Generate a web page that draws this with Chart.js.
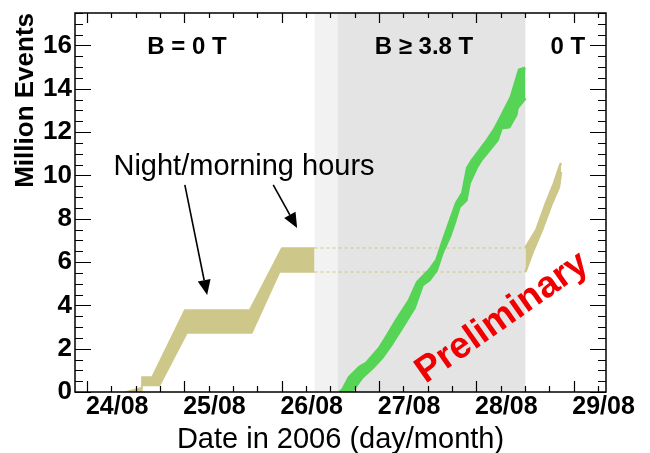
<!DOCTYPE html>
<html lang="en">
<head>
  <meta charset="UTF-8">
  <title>Million Events – August 2006</title>
  <script src="https://cdn.jsdelivr.net/npm/chart.js"></script>
  <style>
    html, body { margin: 0; padding: 0; background: #ffffff; }
    #wrap { width: 650px; height: 453px; }
  </style>
</head>
<body>

<div id="wrap"><canvas id="eventsChart"></canvas></div>

<script>
  // x = hours since 24/08 00:00, y = million events
  const dayTicks = [0, 24, 48, 72, 96, 120];
  const dayLabels = ['24/08', '25/08', '26/08', '27/08', '28/08', '29/08'];
  const eventTicks = [0, 2, 4, 6, 8, 10, 12, 14, 16];

  // B = 0 T, first period (band: upper / lower edge)
  const zeroFieldUpperHours  = [9.5, 13.4, 13.5, 16.0, 24.1, 40.1, 48.0, 56.1];
  const zeroFieldUpperEvents = [0, 0.2, 0.69, 0.69, 3.79, 3.79, 6.65, 6.65];
  const zeroFieldLowerHours  = [9.5, 13.4, 13.5, 17.9, 24.6, 40.6, 47.5, 56.1];
  const zeroFieldLowerEvents = [0, 0.05, 0.3, 0.3, 2.72, 2.72, 5.54, 5.54];

  // B >= 3.8 T
  const fieldUpperHours  = [62.3, 63.0, 64.7, 67.2, 68.9, 72.1, 74.1, 76.3, 79.5, 81.5, 83.2, 84.4, 86.2,
                            87.6, 88.9, 91.1, 92.6, 93.8, 95.0, 98.7, 100.4, 101.7, 104.6, 106.6, 108.1];
  const fieldUpperEvents = [0, 0.09, 0.69, 1.15, 1.34, 2.03, 2.63, 3.32, 4.25, 5.08, 5.40, 5.63, 6.09,
                            6.88, 7.57, 8.73, 9.19, 10.34, 10.71, 11.63, 12.10, 12.56, 13.62, 14.87, 14.96];
  const fieldLowerHours  = [62.3, 65.2, 67.9, 70.4, 72.9, 75.3, 77.8, 80.7, 82.7, 84.4, 86.2, 87.6, 89.4,
                            90.6, 91.8, 93.5, 94.3, 96.0, 97.2, 99.2, 101.2, 102.2, 104.1, 105.8, 106.1, 108.1];
  const fieldLowerEvents = [0, 0, 0.69, 1.11, 1.62, 2.26, 3.00, 3.88, 4.94, 5.17, 5.63, 6.42, 7.16,
                            7.80, 8.54, 8.86, 9.65, 10.34, 10.71, 11.17, 11.63, 12.19, 12.23, 12.79, 13.11, 13.57];

  // B = 0 T again after the field run
  const zeroField2UpperHours  = [108.1, 110.8, 113.2, 115.2, 116.4, 116.9];
  const zeroField2UpperEvents = [6.65, 7.48, 8.73, 9.65, 10.34, 10.57];
  const zeroField2LowerHours  = [108.1, 109.8, 112.2, 114.7, 116.4, 116.9];
  const zeroField2LowerEvents = [5.54, 6.42, 7.48, 8.73, 9.46, 10.16];

  // B = 0 T levels carried across the field period (dashed)
  const carryHours = [56.1, 108.1];
  const carryUpper = [6.65, 6.65];
  const carryLower = [5.54, 5.54];

  // shaded periods: ramp, field on
  const shadeStartHours = [56.1, 61.8];
  const shadeEndHours   = [61.8, 108.1];

  // annotations
  const periodLabels = ['B = 0 T', 'B \u2265 3.8 T', '0 T'];
  const periodLabelHours = [24.6, 83.1, 118.6];
  const periodLabelEvents = 15.93;
  const nightLabel = 'Night/morning hours';
  const nightLabelPos = [38.7, 10.39];
  const arrowFrom = [[24.1, 9.56], [45.9, 9.56]];
  const arrowTo   = [[29.6, 4.48], [51.8, 7.57]];
  const prelimPos = [102.4, 3.42];

  const FONT = "'Liberation Sans', Arial, Helvetica, sans-serif";
  const KHAKI = 'rgb(205,200,138)';
  const GREEN = 'rgb(86,212,86)';
  const SHADES = ['#f2f2f2', '#e4e4e4'];

  const pts = (hs, vs) => hs.map((h, i) => ({ x: h, y: vs[i] }));

  const band = (label, data, color, fill, width) => ({
    label, data, fill,
    backgroundColor: color,
    borderColor: color,
    borderWidth: width,
    borderJoinStyle: 'round',
    pointRadius: 0,
    tension: 0
  });

  const dashed = (label, data) => ({
    label, data, fill: false,
    borderColor: 'rgb(205,198,120)',
    borderWidth: 1,
    borderDash: [3, 3],
    pointRadius: 0
  });

  function arrow(ctx, x0, y0, x1, y1) {
    const ang = Math.atan2(y1 - y0, x1 - x0);
    const len = 15, half = 6.5;
    const bx = x1 - len * Math.cos(ang), by = y1 - len * Math.sin(ang);
    ctx.beginPath();
    ctx.moveTo(x0, y0);
    ctx.lineTo(bx, by);
    ctx.stroke();
    ctx.beginPath();
    ctx.moveTo(x1, y1);
    ctx.lineTo(bx + half * Math.sin(ang), by - half * Math.cos(ang));
    ctx.lineTo(bx - half * Math.sin(ang), by + half * Math.cos(ang));
    ctx.closePath();
    ctx.fill();
  }

  // ROOT-like frame, inner ticks, shaded periods and labels
  const rootStyle = {
    id: 'rootStyle',
    beforeDatasetsDraw(chart) {
      const { ctx, chartArea: a, scales: { x } } = chart;
      ctx.save();
      shadeStartHours.forEach((h, i) => {
        const x0 = x.getPixelForValue(h), x1 = x.getPixelForValue(shadeEndHours[i]);
        ctx.fillStyle = SHADES[i];
        ctx.fillRect(x0, a.top, x1 - x0, a.bottom - a.top);
      });
      ctx.restore();
    },
    afterDatasetsDraw(chart) {
      const { ctx, chartArea: a, scales: { x, y } } = chart;
      ctx.save();
      ctx.strokeStyle = '#000';
      ctx.lineWidth = 1.2;
      ctx.beginPath();
      // x ticks, every 6 h, bottom and top
      for (let h = -24; h <= x.max; h += 6) {
        if (h < x.min) continue;
        const px = Math.round(x.getPixelForValue(h)) + 0.5;
        const major = h % 24 === 0;
        const tb = major ? 11 : 6, tt = major ? 10 : 5;
        ctx.moveTo(px, a.bottom); ctx.lineTo(px, a.bottom - tb);
        ctx.moveTo(px, a.top); ctx.lineTo(px, a.top + tt);
      }
      // y ticks, every 0.5, left and right
      for (let v = 0; v <= y.max + 1e-6; v += 0.5) {
        const py = Math.round(y.getPixelForValue(v)) + 0.5;
        const len = v % 2 === 0 ? 16 : 8;
        ctx.moveTo(a.left, py); ctx.lineTo(a.left + len, py);
        ctx.moveTo(a.right, py); ctx.lineTo(a.right - len, py);
      }
      ctx.stroke();
      ctx.lineWidth = 1.5;
      ctx.strokeRect(a.left, a.top, a.right - a.left, a.bottom - a.top);
      ctx.restore();
    },
    afterDraw(chart) {
      const { ctx, scales: { x, y } } = chart;
      ctx.save();
      ctx.fillStyle = '#000';
      ctx.textAlign = 'center';
      ctx.textBaseline = 'middle';
      ctx.font = `bold 24px ${FONT}`;
      periodLabels.forEach((t, i) => {
        ctx.fillText(t, x.getPixelForValue(periodLabelHours[i]), y.getPixelForValue(periodLabelEvents));
      });
      ctx.font = `29px ${FONT}`;
      ctx.fillText(nightLabel, x.getPixelForValue(nightLabelPos[0]), y.getPixelForValue(nightLabelPos[1]));

      ctx.strokeStyle = '#000';
      ctx.lineWidth = 1.6;
      arrowFrom.forEach((f, i) => {
        arrow(ctx, x.getPixelForValue(f[0]), y.getPixelForValue(f[1]),
          x.getPixelForValue(arrowTo[i][0]), y.getPixelForValue(arrowTo[i][1]));
      });

      ctx.translate(x.getPixelForValue(prelimPos[0]), y.getPixelForValue(prelimPos[1]));
      ctx.rotate(-35 * Math.PI / 180);
      ctx.fillStyle = '#f00000';
      ctx.font = `bold 37px ${FONT}`;
      ctx.fillText('Preliminary', 0, 0);
      ctx.restore();
    }
  };

  new Chart(document.getElementById('eventsChart'), {
    type: 'line',
    data: {
      datasets: [
        band('B = 0 T upper', pts(zeroFieldUpperHours, zeroFieldUpperEvents), KHAKI, '+1', 1.5),
        band('B = 0 T lower', pts(zeroFieldLowerHours, zeroFieldLowerEvents), KHAKI, false, 1.5),
        band('B >= 3.8 T upper', pts(fieldUpperHours, fieldUpperEvents), GREEN, '+1', 3),
        band('B >= 3.8 T lower', pts(fieldLowerHours, fieldLowerEvents), GREEN, false, 3),
        band('0 T upper', pts(zeroField2UpperHours, zeroField2UpperEvents), KHAKI, '+1', 2.5),
        band('0 T lower', pts(zeroField2LowerHours, zeroField2LowerEvents), KHAKI, false, 2.5),
        dashed('carry upper', pts(carryHours, carryUpper)),
        dashed('carry lower', pts(carryHours, carryLower))
      ]
    },
    options: {
      responsive: true,
      maintainAspectRatio: false,
      animation: false,
      events: [],
      layout: { padding: { top: 13, right: 44, left: 0, bottom: 0 } },
      plugins: {
        legend: { display: false },
        tooltip: { enabled: false }
      },
      scales: {
        x: {
          type: 'linear',
          min: -3,
          max: 128,
          afterBuildTicks: s => { s.ticks = dayTicks.map(v => ({ value: v })); },
          afterFit: s => { s.height = 61; s.paddingLeft = 0; s.paddingRight = 0; },
          grid: { display: false, drawTicks: false },
          border: { display: false },
          ticks: {
            callback: (v, i) => dayLabels[i],
            labelOffset: 30,
            padding: 0,
            maxRotation: 0,
            autoSkip: false,
            color: '#000',
            font: { family: FONT, size: 25, weight: 'bold' }
          },
          title: {
            display: true,
            text: 'Date in 2006 (day/month)',
            color: '#000',
            font: { family: FONT, size: 29 },
            padding: { top: 0, bottom: -4 }
          }
        },
        y: {
          type: 'linear',
          min: 0,
          max: 17.5,
          afterBuildTicks: s => { s.ticks = eventTicks.map(v => ({ value: v })); },
          afterFit: s => { s.width = 75; s.paddingTop = 0; s.paddingBottom = 0; },
          grid: { display: false, drawTicks: false },
          border: { display: false },
          ticks: {
            padding: 3,
            color: '#000',
            font: { family: FONT, size: 26, weight: 'bold' }
          },
          title: {
            display: true,
            text: 'Million Events',
            align: 'end',
            color: '#000',
            font: { family: FONT, size: 26, weight: 'bold' },
            padding: { top: 10, bottom: 0 }
          }
        }
      }
    },
    plugins: [rootStyle]
  });
</script>

</body>
</html>
